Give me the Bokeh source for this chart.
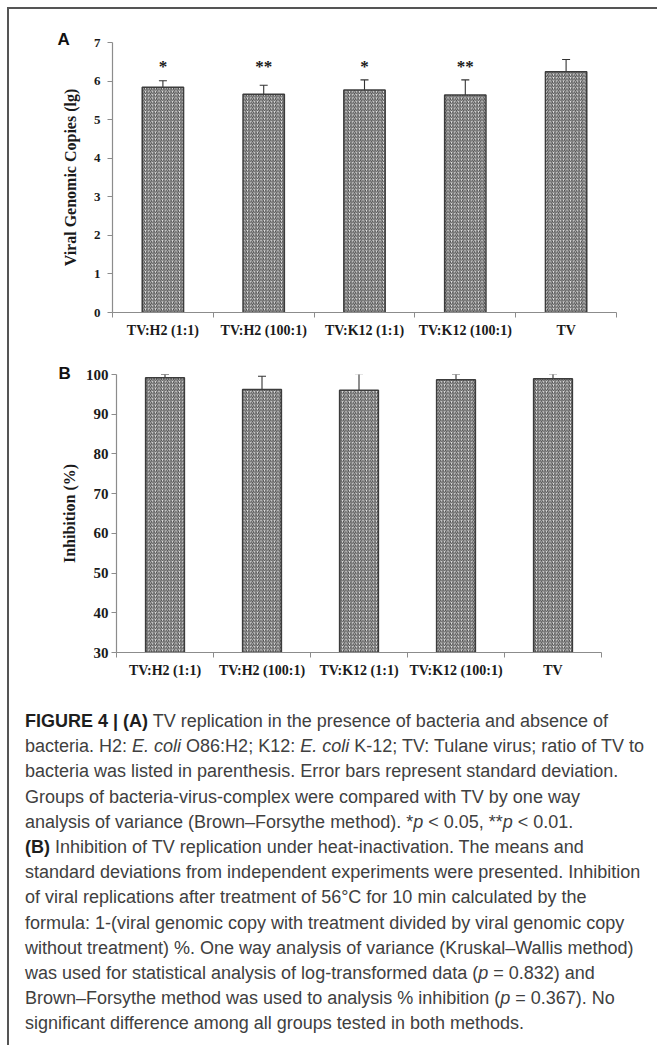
from bokeh.plotting import figure
from bokeh.layouts import column, row
from bokeh.models import (ColumnDataSource, Range1d, FixedTicker, Whisker, TeeHead, Div)
from bokeh.core.properties import value
from bokeh.embed import file_html
from bokeh.resources import INLINE

# ---------------- data ----------------
cats = ["TV:H2 (1:1)", "TV:H2 (100:1)", "TV:K12 (1:1)", "TV:K12 (100:1)", "TV"]
copies = [5.84, 5.66, 5.77, 5.64, 6.24]
copies_sd = [0.17, 0.23, 0.26, 0.39, 0.32]
sig = ["*", "**", "*", "**", ""]
inhib = [99.2, 96.2, 96.05, 98.65, 98.9]
inhib_sd = [0.8, 3.35, 4.15, 1.4, 1.25]
ticks_a = [0, 1, 2, 3, 4, 5, 6, 7]
ticks_b = [30, 40, 50, 60, 70, 80, 90, 100]

SERIF = "Liberation Serif"
AXIS_C = "#8c8c8c"
DARK = "#333333"

xs = [i + 0.5 for i in range(len(cats))]
bounds = list(range(len(cats) + 1))


def make_panel(vals, sds, yr, yticks, ylabel, letter, width, height, mb, tick_font, lbl_standoff,
               tick_standoff, bar_w, t_offset, t_standoff):
    p = figure(width=width, height=height, output_backend="svg", toolbar_location=None,
               x_range=Range1d(0, len(cats)), y_range=Range1d(*yr),
               min_border_left=mb[0], min_border_right=mb[1], min_border_top=mb[2],
               min_border_bottom=mb[3], margin=0)
    p.outline_line_color = None
    p.xgrid.grid_line_color = None
    p.ygrid.grid_line_color = None
    p.background_fill_color = "white"
    p.border_fill_color = "white"

    # panel letter as the figure title
    p.title.text = letter
    p.title.align = "left"
    p.title.offset = t_offset
    p.title.standoff = t_standoff
    p.title.text_font = "Liberation Sans"
    p.title.text_font_style = "bold"
    p.title.text_font_size = "17px"
    p.title.text_color = "#111111"

    src = ColumnDataSource(dict(x=xs, top=vals,
                                upper=[v + s for v, s in zip(vals, sds)],
                                lower=[v - s for v, s in zip(vals, sds)]))
    p.vbar(x="x", top="top", bottom=yr[0], width=bar_w, source=src,
           fill_color="#ececec", line_color="#3c3c3c", line_width=1.5,
           hatch_pattern="/", hatch_color="#3d3d3d", hatch_scale=3.4, hatch_weight=1.0)
    wk = Whisker(base="x", upper="upper", lower="lower", source=src,
                 line_color=DARK, line_width=1.1,
                 upper_head=TeeHead(size=8, line_color=DARK, line_width=1.1),
                 lower_head=TeeHead(size=8, line_color=DARK, line_width=1.1))
    p.add_layout(wk)

    # x axis: labels at category centres, ticks at category boundaries
    xa = p.xaxis[0]
    xa.ticker = FixedTicker(ticks=xs, minor_ticks=bounds)
    xa.major_label_overrides = {x: c for x, c in zip(xs, cats)}
    xa.major_tick_line_color = None
    xa.major_tick_out = 0
    xa.major_tick_in = 0
    xa.minor_tick_out = 5
    xa.minor_tick_in = 0
    xa.minor_tick_line_color = AXIS_C
    xa.axis_line_color = AXIS_C
    xa.axis_line_width = 1.2
    xa.major_label_text_font = SERIF
    xa.major_label_text_font_style = "bold"
    xa.major_label_text_font_size = "14px"
    xa.major_label_text_color = "#1a1a1a"
    xa.major_label_standoff = 5

    # y axis
    ya = p.yaxis[0]
    ya.ticker = FixedTicker(ticks=yticks, minor_ticks=[])
    ya.major_tick_out = 5
    ya.major_tick_in = 0
    ya.major_tick_line_color = AXIS_C
    ya.axis_line_color = AXIS_C
    ya.axis_line_width = 1.2
    ya.major_label_text_font = SERIF
    ya.major_label_text_font_style = "bold"
    ya.major_label_text_font_size = tick_font
    ya.major_label_text_color = "#1a1a1a"
    ya.major_label_standoff = tick_standoff
    ya.axis_label = ylabel
    ya.axis_label_text_font = SERIF
    ya.axis_label_text_font_style = "bold"
    ya.axis_label_text_font_size = "16px"
    ya.axis_label_text_color = "#1a1a1a"
    ya.axis_label_standoff = lbl_standoff
    return p


pA = make_panel(copies, copies_sd, (0, 7), ticks_a, "Viral Genomic Copies (lg)", "A",
                639, 331, (103, 32, 33, 28), "13px", 12, 7, 0.41, -55, -13)
pA.text(x=xs, y=6.37, text=sig, text_font=value(SERIF), text_font_style="bold",
        text_font_size="17px", text_align="center", text_baseline="middle", text_color="#1a1a1a")

pB = make_panel(inhib, inhib_sd, (30, 100), ticks_b, "Inhibition (%)", "B",
                639, 344, (107, 47, 34, 32), "15px", 5, 3, 0.40, -58, -17)

caption_lines = [
    "<b style='color:#1e1e1e'>FIGURE 4 | (A)</b> TV replication in the presence of bacteria and absence of",
    "bacteria. H2: <i>E. coli</i> O86:H2; K12: <i>E. coli</i> K-12; TV: Tulane virus; ratio of TV to",
    "bacteria was listed in parenthesis. Error bars represent standard deviation.",
    "Groups of bacteria-virus-complex were compared with TV by one way",
    "analysis of variance (Brown–Forsythe method). *<i>p</i> &lt; 0.05, **<i>p</i> &lt; 0.01.",
    "<b style='color:#1e1e1e'>(B)</b> Inhibition of TV replication under heat-inactivation. The means and",
    "standard deviations from independent experiments were presented. Inhibition",
    "of viral replications after treatment of 56°C for 10 min calculated by the",
    "formula: 1-(viral genomic copy with treatment divided by viral genomic copy",
    "without treatment) %. One way analysis of variance (Kruskal–Wallis method)",
    "was used for statistical analysis of log-transformed data (<i>p</i> = 0.832) and",
    "Brown–Forsythe method was used to analysis % inhibition (<i>p</i> = 0.367). No",
    "significant difference among all groups tested in both methods.",
]
cap_html = ("<div style=\"font-family:'Liberation Sans', Arial, sans-serif; font-size:18px; "
            "line-height:25.2px; color:#404040; padding:25px 0 0 16px; white-space:nowrap;\">"
            + "<br>".join(caption_lines) + "</div>")
cap = Div(text=cap_html, width=639, height=361, margin=0)

top_line = Div(text="", width=650, height=2, margin=0, styles={"background-color": "#555555"})
left_line = Div(text="", width=2, height=1036, margin=0, styles={"background-color": "#555555"})

panels = column(row(pA, margin=0), row(pB, margin=0), cap, spacing=0, margin=0)
layout = column(top_line, row(left_line, panels, spacing=0, margin=0),
                spacing=0, margin=(7, 0, 0, 7))

open("out.html", "w").write(file_html(layout, INLINE))
